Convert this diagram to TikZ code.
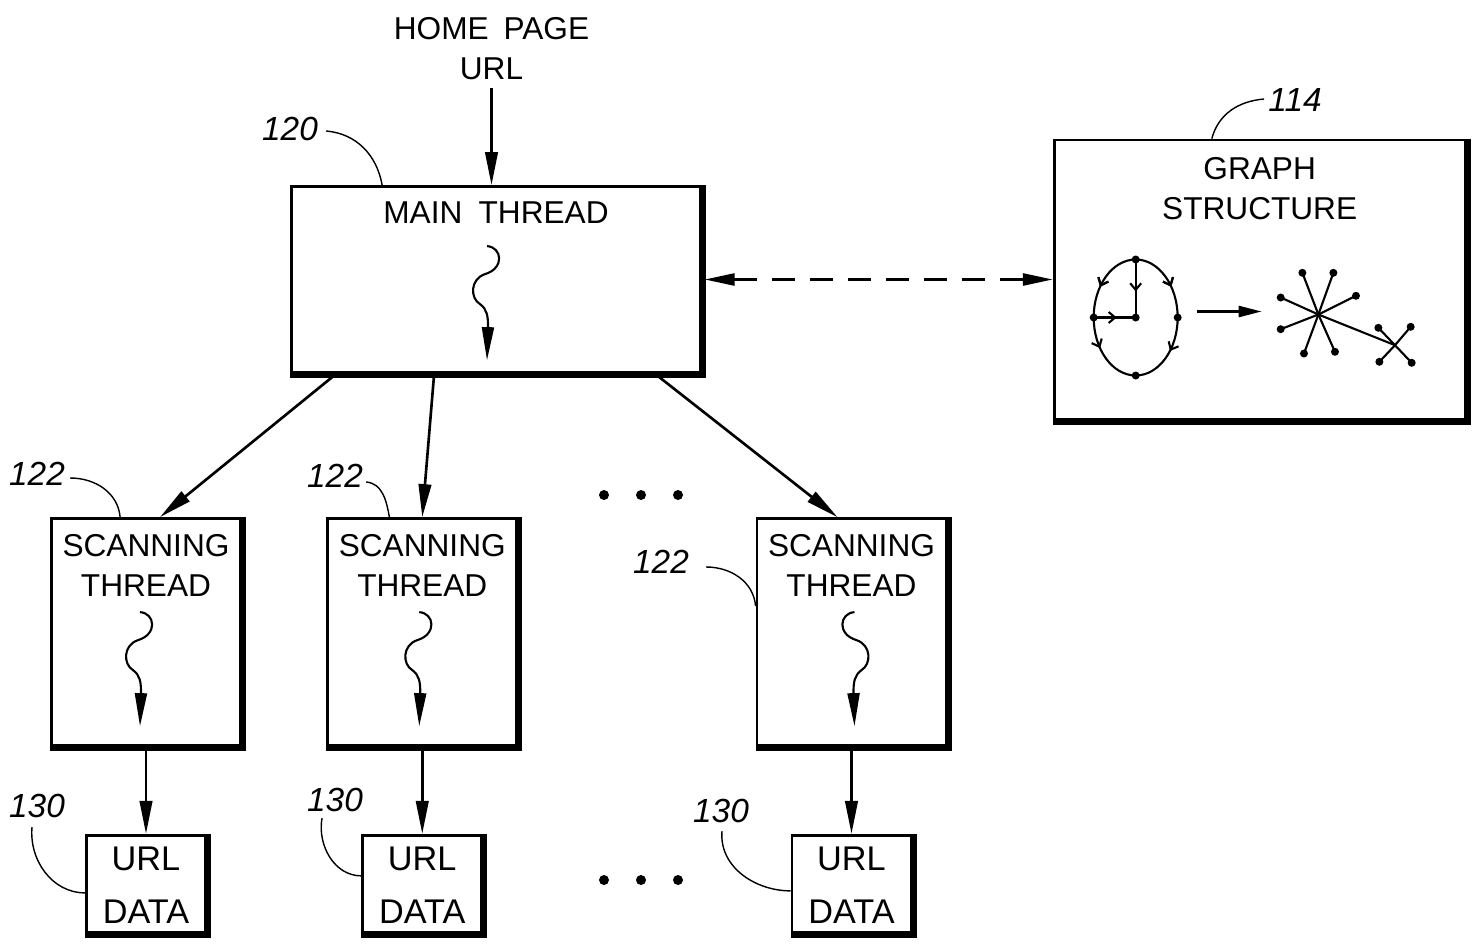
\documentclass[tikz,border=0pt]{standalone}
\usepackage{fontspec}
\setmainfont{Liberation Sans}
\usepackage{tikz}
\usetikzlibrary{calc, arrows.meta, positioning, decorations.markings}

\begin{document}
\begin{tikzpicture}[
        x=0.02cm, y=-0.02cm,
        font=\fontsize{18}{22.8}\selectfont,
        box/.style = {draw, rectangle, line width=1.6pt, inner sep=0pt},
        mainbox/.style = {box, minimum width=8.18cm, minimum height=3.72cm},
        graphbox/.style = {box, minimum width=8.22cm, minimum height=5.58cm},
        scanbox/.style = {box, minimum width=3.78cm, minimum height=4.54cm},
        databox/.style = {box, minimum width=2.38cm, minimum height=1.94cm},
        title/.style = {align=center, inner sep=0pt},
        datatitle/.style = {title, font=\fontsize{19.5}{30.5}\selectfont},
        refnum/.style = {font=\fontsize{19}{22}\selectfont\itshape, inner sep=0pt},
        leader/.style = {line width=0.8pt},
        arrow/.style = {line width=1.5pt, -{Triangle[length=0.66cm, width=0.25cm]}},
        squig/.style = {line width=1.2pt, -{Triangle[length=0.66cm, width=0.24cm]}},
        dasharrow/.style = {line width=1.5pt, dash pattern=on 0.46cm off 0.3cm,
            {Triangle[length=0.6cm, width=0.24cm]}-{Triangle[length=0.6cm, width=0.24cm]}},
        shadowedge/.style = {line width=3.2pt},
        gline/.style = {line width=1.2pt},
        midbarb/.style = {decoration={markings, mark=at position #1 with {\arrow{Straight Barb[length=0.13cm, width=0.22cm]}}}, postaction={decorate}}
    ]

        % Frame of the page
        \useasboundingbox (0,0) rectangle (1479,943);

        % Main thread and graph
        \node (main) [mainbox] at (496,279.5) {};
        \node (maintitle) [title, below=0.33cm of main.north] {MAIN\hspace{0.15cm} THREAD};
        \node (graph) [graphbox, right=7.02cm of main] {};
        \node (graphtitle) [title, below=0.36cm of graph.north] {GRAPH\\STRUCTURE};
        \node (url) [title, above=2.1cm of main, xshift=-0.09cm] {HOME\hspace{0.12cm} PAGE\\URL};

        % Scanning threads
        \node (scanA) [scanbox] at (146,632) {};
        \node (scanB) [scanbox, right=1.69cm of scanA] {};
        \node (scanC) [scanbox, right=4.75cm of scanB] {};
        \foreach \n in {scanA, scanB, scanC}
            \node (\n title) [title, below=0.34cm of \n.north] {SCANNING\\THREAD};

        % URL data
        \node (dataA) [databox, below=1.74cm of scanA] {};
        \node (dataB) [databox, below=1.74cm of scanB] {};
        \node (dataC) [databox, below=1.74cm of scanC] {};
        \foreach \n in {dataA, dataB, dataC}
            \node (\n title) [datatitle, below=0.25cm of \n.north] {URL\\DATA};

        % Heavy right and bottom edges
        \foreach \n in {main, graph, scanA, scanB, scanC, dataA, dataB, dataC}
            \draw [shadowedge] ([xshift=0.8pt]\n.north east) -- ([xshift=0.8pt, yshift=-0.8pt]\n.south east) -- ([yshift=-0.8pt]\n.south west);

        % Thread squiggles
        \foreach \n/\dx/\dy/\s in {main/-9/61/1, scanA/-6/95/1, scanB/-3/95/1, scanC/3/95/-1} {
            \begin{scope}[shift={(\n.north)}, shift={(\dx,\dy)}, xscale=\s]
                \draw [squig] (0,0) .. controls (15,1) and (18,22) .. (-2,28)
                    .. controls (-17,33) and (-17,52) .. (-7,58)
                    .. controls (0,63) and (1,70) .. (1,80) -- (0,114);
            \end{scope}
        }

        % Arrows
        \draw [arrow, shorten <=0.16cm] (url.south) -- (url.south |- main.north);
        \draw [arrow] ($(main.south west)+(46,0)$) -- ($(scanA.north)+(14,0)$);
        \draw [arrow] ($(main.south west)+(144,0)$) -- (scanB.north);
        \draw [arrow] ($(main.south west)+(365,0)$) -- ($(scanC.north)+(-14,0)$);
        \draw [arrow] (scanA.south) -- (dataA.north);
        \draw [arrow] (scanB.south) -- (dataB.north);
        \draw [arrow] (scanC.south) -- (dataC.north);
        \draw [dasharrow] ([xshift=1.6pt]main.east) -- (main.east -| graph.west);

        % Graph structure sketch
        \begin{scope}[shift={(graph.center)}]
            \draw [gline, midbarb=0.3, postaction={midbarb=0.7}] (-124,-20) arc[start angle=90, end angle=270, x radius=0.84cm, y radius=1.16cm];
            \draw [gline, midbarb=0.3, postaction={midbarb=0.72}] (-124,-20) arc[start angle=90, end angle=-90, x radius=0.84cm, y radius=1.16cm];
            \draw [gline, midbarb=0.55] (-124,-20) -- (-124,38);
            \draw [gline, midbarb=0.55] (-166,38) -- (-124,38);
            \foreach \p in {(-124,-20), (-124,96), (-166,38), (-82,38), (-124,38)}
                \fill \p circle (0.08cm);
            \draw [gline, line width=1.4pt, -{Triangle[length=0.46cm, width=0.22cm]}] (-63,32) -- (2,32);
            \foreach \p in {(42.7,-6.7), (73.7,-6.7), (21,18), (96.3,16.3), (21,49.7), (44.3,74), (75.3,72.3)} {
                \draw [gline] (58.7,35) -- \p;
                \fill \p circle (0.08cm);
            }
            \draw [gline] (58.7,35) -- (135.3,65.7);
            \foreach \p in {(118.7,48.3), (151,47.3), (119.7,82.3), (152,83.3)} {
                \draw [gline] (135.3,65.7) -- \p;
                \fill \p circle (0.08cm);
            }
        \end{scope}

        % Ellipsis dots
        \foreach \x in {604,641,678} {
            \fill (\x,495) circle (0.1cm);
            \fill (\x,880) circle (0.1cm);
        }

        % Reference numerals
        \node (n120) [refnum] at (290,129) {120};
        \node (n114) [refnum] at (1295,100) {114};
        \node (n122a) [refnum] at (37,474) {122};
        \node (n122b) [refnum] at (335,476) {122};
        \node (n122c) [refnum] at (661,562) {122};
        \node (n130a) [refnum] at (37,806) {130};
        \node (n130b) [refnum] at (335,800) {130};
        \node (n130c) [refnum] at (721,811) {130};

        \draw [leader] ($(n120.east)+(8,2)$) to[out=-5, in=100] ($(main.north west)+(92,0)$);
        \draw [leader] ($(n114.west)+(-4,-1)$) to[out=185, in=75] ($(graph.north west)+(159,0)$);
        \draw [leader] ($(n122a.east)+(5,4)$) to[out=0, in=95] ($(scanA.north west)+(70,0)$);
        \draw [leader] ($(n122b.east)+(3,6)$) to[out=-5, in=100] ($(scanB.north west)+(63,0)$);
        \draw [leader] ($(n122c.east)+(17,5)$) to[out=0, in=95] ($(scanC.north west)+(0,89)$);
        \draw [leader] ($(n130a.south)+(-5,9)$) to[out=-95, in=180] ($(dataA.north west)+(0,59)$);
        \draw [leader] ($(n130b.south)+(-13,6)$) to[out=-100, in=180] ($(dataB.north west)+(0,42)$);
        \draw [leader] ($(n130c.south)+(1,8)$) to[out=-95, in=180] ($(dataC.north west)+(0,57)$);

    \end{tikzpicture}
\end{document}
